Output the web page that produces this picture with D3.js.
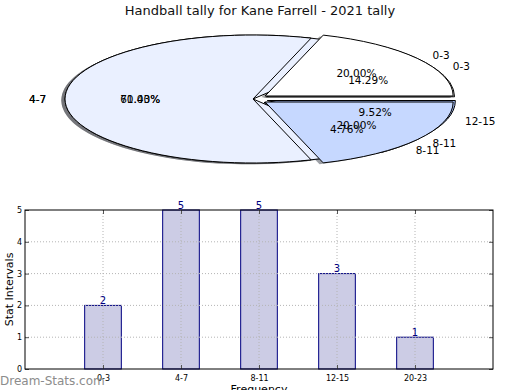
<!DOCTYPE html>
<html><head><meta charset="utf-8">
<script src="https://cdn.jsdelivr.net/npm/d3@7"></script>
<style>body{margin:0;background:#fff}svg{display:block;font-family:"DejaVu Sans",sans-serif}</style>
</head><body>
<svg id="chart" width="520" height="390"></svg>
<script>
const chartTitle = "Handball tally for Kane Farrell - 2021 tally";
// Pie (drawn on top)
const pieCats1 = ["0-3", "4-7", "8-11"];
const pieVals1 = [20.00, 60.00, 20.00];
// Pie (drawn underneath)
const pieCats2 = ["0-3", "4-7", "8-11", "12-15"];
const pieVals2 = [14.29, 71.43, 4.76, 9.52];
const pieColors = {"0-3": "#ffffff", "4-7": "#eaf0ff", "8-11": "#c6d8ff", "12-15": "#9fb8f0"};
// Bars
const barCats = ["0-3", "4-7", "8-11", "12-15", "20-23"];
const barVals = [2, 5, 5, 3, 1];
const yTicks = [0, 1, 2, 3, 4, 5];
const yLabel = "Stat Intervals";
const xLabel = "Frequency";
const watermark = "Dream-Stats.com";

const svg = d3.select("#chart");
svg.append("rect").attr("width", 520).attr("height", 390).attr("fill", "#fff");

svg.append("text").attr("x", 260).attr("y", 15).attr("text-anchor", "middle")
  .attr("font-size", 13).attr("fill", "#111").text(chartTitle);

// ---------- PIE ----------
const cx = 253, cy = 99, rx = 188, ry = 64, R = 100;
const explode = 0.08, labelDist = 1.1, pctDist = 0.6;
const pieGen = d3.pie().sort(null).value(d => d.v)
  .startAngle(Math.PI / 2).endAngle(Math.PI / 2 - 2 * Math.PI);
const arcGen = d3.arc().innerRadius(0).outerRadius(R);

function build(cats, vals) {
  const data = cats.map((c, i) => ({c, v: vals[i]}));
  return pieGen(data).map(a => {
    const m = (a.startAngle + a.endAngle) / 2;
    const e = a.data.c === "4-7" ? 0 : explode;
    return {a, m, e, dx: e * R * Math.sin(m), dy: -e * R * Math.cos(m)};
  });
}
const wedges2 = build(pieCats2, pieVals2);
const wedges1 = build(pieCats1, pieVals1);

const pg = svg.append("g").attr("transform", `translate(${cx},${cy}) scale(${rx / R},${ry / R})`);
// shadows
[wedges2, wedges1].forEach(ws => {
  ws.forEach(w => {
    const col = d3.rgb(pieColors[w.a.data.c]);
    pg.append("path").attr("d", arcGen(w.a))
      .attr("transform", `translate(${w.dx - 2},${w.dy + 2})`)
      .attr("fill", d3.rgb(col.r * 0.3, col.g * 0.3, col.b * 0.3)).attr("fill-opacity", 0.5);
  });
});
// wedges
[wedges2, wedges1].forEach(ws => {
  ws.forEach(w => {
    pg.append("path").attr("d", arcGen(w.a))
      .attr("transform", `translate(${w.dx},${w.dy})`)
      .attr("fill", pieColors[w.a.data.c]).attr("stroke", "#000")
      .attr("stroke-width", 1).attr("vector-effect", "non-scaling-stroke");
  });
});
// texts
[wedges2, wedges1].forEach(ws => {
  ws.forEach(w => {
    const ux = Math.sin(w.m), uy = -Math.cos(w.m);
    const lx = cx + (w.e + labelDist) * ux * rx, ly = cy + (w.e + labelDist) * uy * ry;
    svg.append("text").attr("x", lx).attr("y", ly)
      .attr("text-anchor", lx > cx ? "start" : "end").attr("dominant-baseline", "central")
      .attr("font-size", 10.5).attr("fill", "#000").text(w.a.data.c);
    const px = cx + (w.e + pctDist) * ux * rx, py = cy + (w.e + pctDist) * uy * ry;
    svg.append("text").attr("x", px).attr("y", py)
      .attr("text-anchor", "middle").attr("dominant-baseline", "central")
      .attr("font-size", 10.5).attr("fill", "#000").text(w.a.data.v.toFixed(2) + "%");
  });
});

// ---------- BARS ----------
const L = 25, Rr = 493, T = 210, B = 369;
const x = d3.scaleLinear().domain([-1, 5]).range([L, Rr]);
const y = d3.scaleLinear().domain([0, 5]).range([B, T]);
const bw = 0.47;
const idx = barCats.map((c, i) => i);

svg.append("g").selectAll("rect").data(barVals).join("rect")
  .attr("x", (d, i) => x(i - bw / 2)).attr("width", x(bw) - x(0))
  .attr("y", d => y(d)).attr("height", d => y(0) - y(d))
  .attr("fill", "#ccccE5").attr("stroke", "#000080").attr("stroke-width", 1);

// grid
const grid = svg.append("g").attr("stroke", "#b4b4b4").attr("stroke-width", 1).attr("stroke-dasharray", "1,2");
idx.forEach(i => grid.append("line").attr("x1", x(i)).attr("x2", x(i)).attr("y1", T).attr("y2", B));
yTicks.filter(t => t > 0 && t < 5).forEach(t => grid.append("line").attr("x1", L).attr("x2", Rr).attr("y1", y(t)).attr("y2", y(t)));

// value labels
svg.append("g").selectAll("text").data(barVals).join("text")
  .attr("x", (d, i) => x(i)).attr("y", d => y(d) - 1.5).attr("text-anchor", "middle")
  .attr("font-size", 10).attr("fill", "#000080").text(d => d);

// axes
function styleAxis(g) {
  g.select(".domain").remove();
  g.selectAll(".tick line").attr("stroke", "#555");
  g.selectAll(".tick text").attr("font-family", "DejaVu Sans").attr("font-size", 8).attr("fill", "#000");
}
svg.append("g").attr("transform", `translate(${L},0)`)
  .call(d3.axisLeft(y).tickValues(yTicks).tickFormat(d3.format("d")).tickSizeInner(-4).tickSizeOuter(0).tickPadding(3))
  .call(styleAxis);
svg.append("g").attr("transform", `translate(${Rr},0)`)
  .call(d3.axisRight(y).tickValues(yTicks).tickFormat("").tickSizeInner(-4).tickSizeOuter(0))
  .call(styleAxis);
svg.append("g").attr("transform", `translate(0,${B})`)
  .call(d3.axisBottom(x).tickValues(idx).tickFormat(i => barCats[i]).tickSizeInner(-4).tickSizeOuter(0).tickPadding(6))
  .call(styleAxis);
svg.append("g").attr("transform", `translate(0,${T})`)
  .call(d3.axisTop(x).tickValues(idx).tickFormat("").tickSizeInner(-4).tickSizeOuter(0))
  .call(styleAxis);

svg.append("rect").attr("x", L).attr("y", T).attr("width", Rr - L).attr("height", B - T)
  .attr("fill", "none").attr("stroke", "#000").attr("stroke-width", 1);

svg.append("text").attr("transform", `translate(13,${(T + B) / 2}) rotate(-90)`)
  .attr("text-anchor", "middle").attr("font-size", 11).attr("fill", "#000").text(yLabel);
svg.append("text").attr("x", (L + Rr) / 2).attr("y", 393).attr("text-anchor", "middle")
  .attr("font-size", 11).attr("fill", "#000").text(xLabel);

svg.append("text").attr("x", 0).attr("y", 385).attr("font-size", 12)
  .attr("fill", "#8c8c8c").text(watermark);
</script>
</body></html>
